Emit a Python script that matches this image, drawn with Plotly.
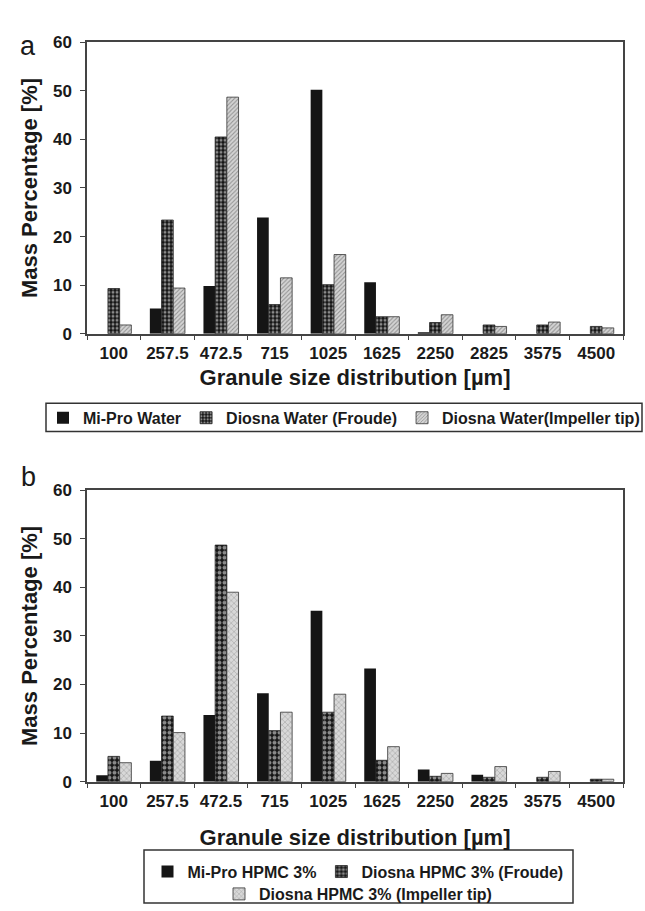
import plotly.graph_objects as go

categories = ["100", "257.5", "472.5", "715", "1025", "1625", "2250", "2825", "3575", "4500"]

a_mipro = [0, 5.2, 9.8, 23.9, 50.2, 10.6, 0.3, 0, 0, 0]
a_froude = [9.3, 23.4, 40.5, 6.0, 10.1, 3.5, 2.3, 1.8, 1.8, 1.5]
a_impeller = [1.8, 9.4, 48.7, 11.5, 16.3, 3.5, 3.9, 1.5, 2.4, 1.2]

b_mipro = [1.3, 4.3, 13.7, 18.2, 35.2, 23.3, 2.5, 1.4, 0, 0]
b_froude = [5.2, 13.5, 48.7, 10.5, 14.3, 4.4, 1.1, 0.9, 0.9, 0.5]
b_impeller = [3.9, 10.1, 39.0, 14.3, 18.0, 7.2, 1.7, 3.1, 2.1, 0.5]

names_a = ["Mi-Pro Water", "Diosna Water (Froude)", "Diosna Water(Impeller tip)"]
names_b = ["Mi-Pro HPMC 3%", "Diosna HPMC 3% (Froude)", "Diosna HPMC 3% (Impeller tip)"]

W, H = 645, 911
FONT = "Arial, Liberation Sans, sans-serif"
TXT = "#1a1a1a"

def px_x(v):
    return v / W

def px_y(v):
    return 1 - v / H

solid = dict(color="#151515", line=dict(width=0))
froude_a = dict(color="#151515", line=dict(color="#222", width=0.8),
                pattern=dict(shape=".", bgcolor="#151515", fgcolor="white", size=4, solidity=0.45))
imp_a = dict(color="#cfcfcf", line=dict(color="#333", width=0.8),
             pattern=dict(shape="/", bgcolor="#d4d4d4", fgcolor="#555", size=3, solidity=0.35))
froude_b = dict(color="#151515", line=dict(color="#222", width=0.8),
                pattern=dict(shape=".", bgcolor="#151515", fgcolor="white", size=5, solidity=0.5))
imp_b = dict(color="#d0d0d0", line=dict(color="#333", width=0.8),
             pattern=dict(shape="x", bgcolor="#d8d8d8", fgcolor="#666", size=4, solidity=0.25))

fig = go.Figure()
fig.add_bar(x=categories, y=a_mipro, name=names_a[0], marker=solid, xaxis="x", yaxis="y", legend="legend")
fig.add_bar(x=categories, y=a_froude, name=names_a[1], marker=froude_a, xaxis="x", yaxis="y", legend="legend")
fig.add_bar(x=categories, y=a_impeller, name=names_a[2], marker=imp_a, xaxis="x", yaxis="y", legend="legend")
fig.add_bar(x=categories, y=b_mipro, name=names_b[0], marker=solid, xaxis="x2", yaxis="y2", legend="legend2")
fig.add_bar(x=categories, y=b_froude, name=names_b[1], marker=froude_b, xaxis="x2", yaxis="y2", legend="legend2")
fig.add_bar(x=categories, y=b_impeller, name=names_b[2], marker=imp_b, xaxis="x2", yaxis="y2", legend="legend3")

xdom = [px_x(87), px_x(623)]
axis_common = dict(showline=True, linecolor="#444", linewidth=1.5, mirror=True,
                   ticks="outside", ticklen=5, tickcolor="#444", tickwidth=1.2,
                   showgrid=False, zeroline=False,
                   tickfont=dict(family=FONT, size=17, color=TXT, weight="bold"))

xt = dict(text="Granule size distribution [µm]", font=dict(family=FONT, size=22, color=TXT, weight="bold"))
yt = dict(text="Mass Percentage [%]", font=dict(family=FONT, size=22, color=TXT, weight="bold"), standoff=9)

legfont = dict(family=FONT, size=16, color=TXT, weight="bold")

fig.update_layout(
    width=W, height=H,
    margin=dict(l=0, r=0, t=0, b=0),
    paper_bgcolor="white", plot_bgcolor="white",
    barmode="group", bargap=0.345, bargroupgap=0,
    font=dict(family=FONT, color=TXT),
    xaxis=dict(domain=xdom, anchor="y", type="category", tickson="boundaries", ticklabelstandoff=3,
               title=dict(xt, standoff=8), **axis_common),
    yaxis=dict(domain=[px_y(332), px_y(34)], anchor="x", range=[0, 60], dtick=10,
               ticklabelstandoff=5, title=yt, **axis_common),
    xaxis2=dict(domain=xdom, anchor="y2", type="category", tickson="boundaries", ticklabelstandoff=3,
                title=dict(xt, standoff=20), **axis_common),
    yaxis2=dict(domain=[px_y(790), px_y(492)], anchor="x2", range=[0, 60], dtick=10,
                ticklabelstandoff=5, title=yt, **axis_common),
    legend=dict(orientation="h", x=px_x(344), xanchor="center", y=px_y(418), yanchor="middle",
                borderwidth=0, bgcolor="rgba(0,0,0,0)", font=legfont, traceorder="normal"),
    legend2=dict(orientation="h", x=px_x(358), xanchor="center", y=px_y(882), yanchor="middle",
                 borderwidth=0, bgcolor="rgba(0,0,0,0)", font=legfont, traceorder="normal"),
    legend3=dict(orientation="h", x=px_x(358), xanchor="center", y=px_y(905), yanchor="middle",
                 borderwidth=0, bgcolor="rgba(0,0,0,0)", font=legfont),
    shapes=[
        dict(type="rect", xref="paper", yref="paper",
             x0=px_x(46), x1=px_x(642), y0=px_y(403), y1=px_y(432),
             line=dict(color="#333", width=1.5), fillcolor="rgba(0,0,0,0)", layer="below"),
        dict(type="rect", xref="paper", yref="paper",
             x0=px_x(144), x1=px_x(573), y0=px_y(860), y1=px_y(914),
             line=dict(color="#333", width=1.5), fillcolor="rgba(0,0,0,0)", layer="below"),
    ],
    annotations=[
        dict(text="a", x=px_x(18), y=px_y(20), xref="paper", yref="paper", showarrow=False,
             font=dict(family=FONT, size=27, color=TXT)),
        dict(text="b", x=px_x(19), y=px_y(478), xref="paper", yref="paper", showarrow=False,
             font=dict(family=FONT, size=27, color=TXT)),
    ],
)

fig.write_html("out.html")
